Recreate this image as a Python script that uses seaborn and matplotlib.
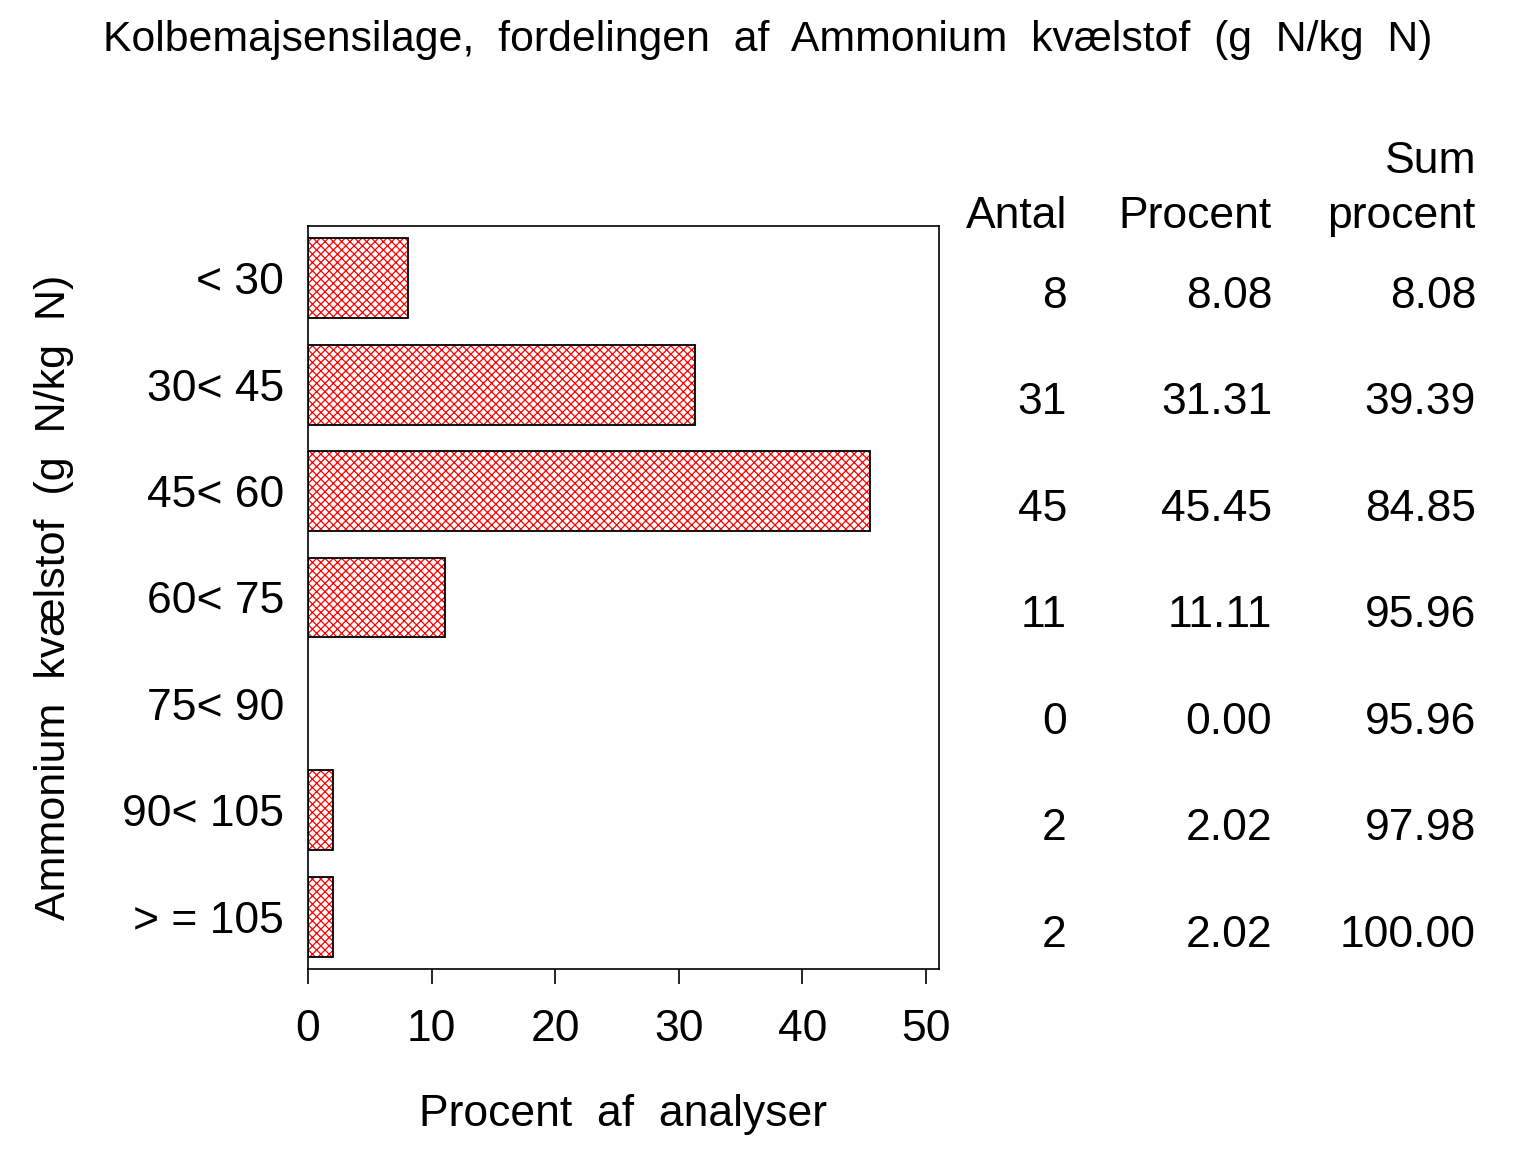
import matplotlib
matplotlib.use("Agg")
import matplotlib.pyplot as plt
import matplotlib.transforms as mtransforms
import seaborn as sns
import pandas as pd

categories = ["< 30", "30< 45", "45< 60", "60< 75", "75< 90", "90< 105", "> = 105"]
antal = [8, 31, 45, 11, 0, 2, 2]
procent = [8.08, 31.31, 45.45, 11.11, 0.00, 2.02, 2.02]
sum_procent = [8.08, 39.39, 84.85, 95.96, 95.96, 97.98, 100.00]
xticks = [0, 10, 20, 30, 40, 50]

sns.set_theme(style="white")
plt.rcParams['font.family'] = ['Liberation Sans', 'DejaVu Sans']
plt.rcParams['text.color'] = 'black'
plt.rcParams['axes.labelcolor'] = 'black'
plt.rcParams['xtick.color'] = 'black'
plt.rcParams['ytick.color'] = 'black'
plt.rcParams['hatch.linewidth'] = 0.9

df = pd.DataFrame({"kat": categories, "pct": procent})

fig = plt.figure(figsize=(15.36, 11.52), dpi=100)
ax = fig.add_axes([0.2005, 0.1589, 0.4108, 0.6449])

sns.barplot(data=df, x="pct", y="kat", orient="h", width=0.75,
            color="white", ax=ax)
for p in list(ax.patches):
    p.set_facecolor("white")
    p.set_edgecolor("red")
    p.set_hatch("xxxx")
    p.set_linewidth(0)
    if p.get_width() > 0:
        ax.add_patch(plt.Rectangle(p.get_xy(), p.get_width(), p.get_height(),
                                   fill=False, edgecolor="black", linewidth=1.3))

ax.set_xlim(0, 51.05)
ax.set_ylim(6.49, -0.49)
ax.set_xticks(xticks)
ax.set_xticklabels([str(t) for t in xticks])
ax.tick_params(axis="x", direction="out", length=11, width=1.2, color="black",
               pad=18, bottom=True, labelsize=32, labelcolor="black")
ax.tick_params(axis="y", length=0, pad=17, labelsize=32, labelcolor="black")
for s in ax.spines.values():
    s.set_color("black")
    s.set_linewidth(1.2)

ax.set_xlabel("Procent  af  analyser", fontsize=32, color="black")
ax.set_ylabel("Ammonium  kvælstof  (g  N/kg  N)", fontsize=31, color="black")
ax.xaxis.set_label_coords(0.5, (969 - 1094) / 743)
ax.yaxis.set_label_coords((74 - 308) / 631, 0.5)

fig.text(0.5, 0.965, "Kolbemajsensilage,  fordelingen  af  Ammonium  kvælstof  (g  N/kg  N)",
         ha="center", va="center", fontsize=30.8, color="black")

trans = mtransforms.blended_transform_factory(fig.transFigure, ax.transData)
col_x = [1067 / 1536, 1272 / 1536, 1476 / 1536]
for i in range(len(categories)):
    vals = [str(antal[i]), f"{procent[i]:.2f}", f"{sum_procent[i]:.2f}"]
    for cx, v in zip(col_x, vals):
        ax.text(cx, i + 0.28, v, transform=trans, ha="right", va="baseline",
                fontsize=32, color="black", clip_on=False)

fig.text(col_x[0], 1 - 228 / 1152, "Antal", ha="right", va="baseline", fontsize=32)
fig.text(col_x[1], 1 - 228 / 1152, "Procent", ha="right", va="baseline", fontsize=32)
fig.text(col_x[2], 1 - 173 / 1152, "Sum", ha="right", va="baseline", fontsize=32)
fig.text(col_x[2], 1 - 228 / 1152, "procent", ha="right", va="baseline", fontsize=32)

fig.savefig("out.png", dpi=100)
